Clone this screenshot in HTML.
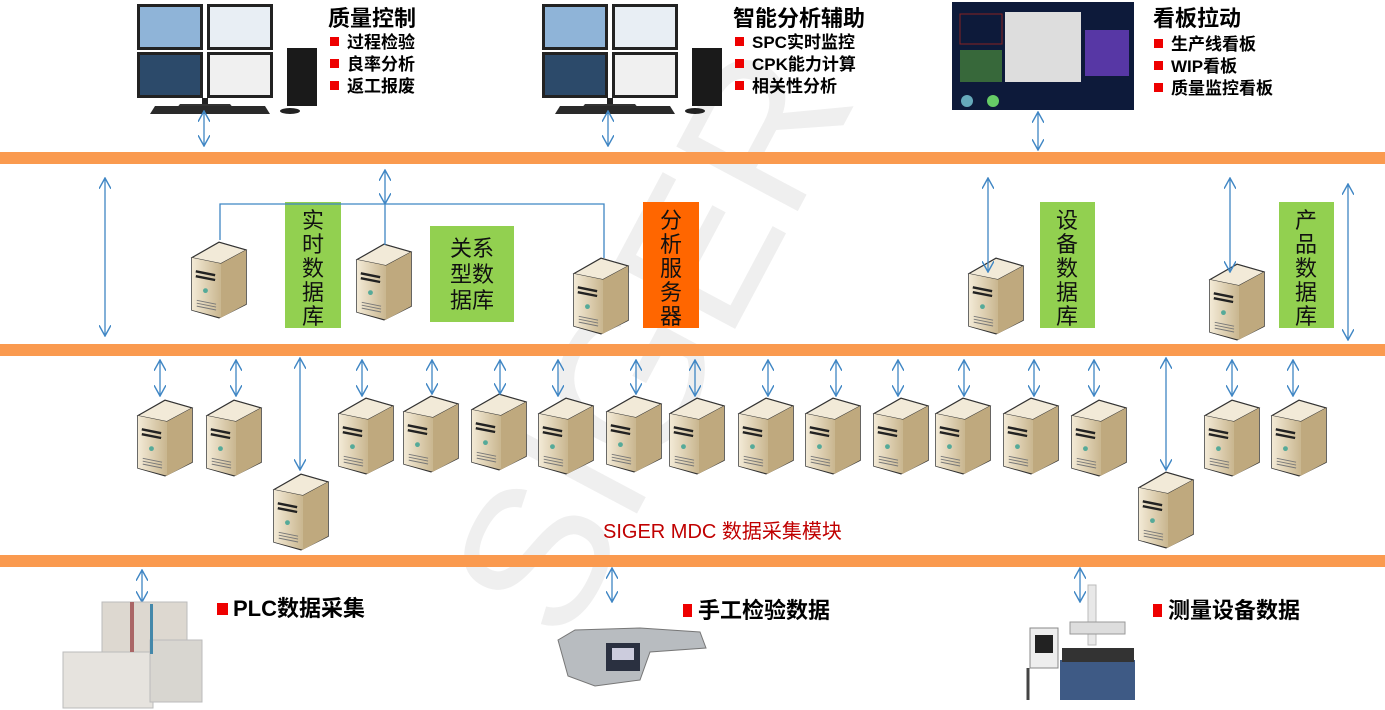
<!DOCTYPE html>
<html><head><meta charset="utf-8"><style>
html,body{margin:0;padding:0;background:#fff;width:1385px;height:710px;overflow:hidden}
svg{display:block;overflow:hidden}
.t{font-family:"Liberation Sans","Noto Sans CJK SC",sans-serif}
</style></head><body>
<svg width="1385" height="710" viewBox="0 0 1385 710" xmlns="http://www.w3.org/2000/svg">
<defs>
<clipPath id="cp"><rect x="0" y="0" width="1385" height="710"/></clipPath>
<linearGradient id="sf" x1="0" x2="1"><stop offset="0" stop-color="#f3ead6"/><stop offset="1" stop-color="#c9b68f"/></linearGradient>
<symbol id="srv" viewBox="0 0 60 82">
<path d="M2 18 L30 2 L58 10 L58 66 L30 80 L2 72 Z" fill="#d8c8a4" stroke="#333" stroke-width="1.5"/>
<path d="M2 18 L30 2 L58 10 L32 24 Z" fill="#f2ead8" stroke="#333" stroke-width="1"/>
<path d="M32 24 L58 10 L58 66 L32 80 Z" fill="#bfa97e"/>
<path d="M2 18 L32 24 L32 80 L2 72 Z" fill="url(#sf)"/>
<path d="M6 32 L26 36 M6 37 L26 41" stroke="#222" stroke-width="2.5"/>
<circle cx="16" cy="52" r="2.5" fill="#5a9"/>
<path d="M7 62 L27 66 M7 65 L27 69 M7 68 L27 72" stroke="#777" stroke-width="1"/>
</symbol>
<symbol id="mon" viewBox="0 0 140 115">
<rect x="2" y="2" width="66" height="46" fill="#222"/><rect x="72" y="2" width="66" height="46" fill="#222"/>
<rect x="2" y="50" width="66" height="46" fill="#222"/><rect x="72" y="50" width="66" height="46" fill="#222"/>
<rect x="5" y="5" width="60" height="40" fill="#8fb4d8"/><rect x="75" y="5" width="60" height="40" fill="#e8eef4"/>
<rect x="5" y="53" width="60" height="40" fill="#2c4a6a"/><rect x="75" y="53" width="60" height="40" fill="#f0f0f0"/>
<rect x="67" y="96" width="6" height="6" fill="#222"/><path d="M45 102 L95 102 L100 108 L40 108Z" fill="#333"/>
<path d="M20 104 L130 104 L135 112 L15 112Z" fill="#2a2a2a"/>
</symbol>
<marker id="ah" viewBox="0 0 10 10" refX="9" refY="5" markerWidth="12" markerHeight="12" orient="auto-start-reverse" markerUnits="userSpaceOnUse"><path d="M0 0 L9 5 L0 10" fill="none" stroke="#3f86c4" stroke-width="1.2"/></marker>
</defs>
<g clip-path="url(#cp)">
<!-- watermark -->
<text x="650" y="410" class="t" font-size="200" fill="#efefef" transform="rotate(-62 650 340)" text-anchor="middle">SIGER</text>

<!-- bands -->
<rect x="0" y="152" width="1385" height="12" fill="#fa9a4f"/>
<rect x="0" y="344" width="1385" height="12" fill="#fa9a4f"/>
<rect x="0" y="555" width="1385" height="12" fill="#fa9a4f"/>

<!-- top images -->
<use href="#mon" x="135" y="2" width="140" height="115"/>
<rect x="287" y="48" width="30" height="58" fill="#1a1a1a"/>
<ellipse cx="290" cy="111" rx="10" ry="3" fill="#222"/>
<use href="#mon" x="540" y="2" width="140" height="115"/>
<rect x="692" y="48" width="30" height="58" fill="#1a1a1a"/>
<ellipse cx="695" cy="111" rx="10" ry="3" fill="#222"/>
<rect x="952" y="2" width="182" height="108" fill="#0d1a3a"/>
<rect x="1005" y="12" width="76" height="70" fill="#ddd"/>
<rect x="960" y="14" width="42" height="30" fill="none" stroke="#822" /><rect x="1085" y="30" width="44" height="46" fill="#6a3fc0" opacity=".8"/>
<rect x="960" y="50" width="42" height="32" fill="#4a8a3a" opacity=".7"/>
<circle cx="967" cy="101" r="6" fill="#6ab"/><circle cx="993" cy="101" r="6" fill="#6c6"/>

<!-- top texts -->
<g class="t" font-weight="bold">
<text x="328" y="26" font-size="22">质量控制</text>
<text x="733" y="26" font-size="22">智能分析辅助</text>
<text x="1153" y="26" font-size="22">看板拉动</text>
<g font-size="17">
<rect x="330" y="37" width="9" height="9" fill="#e00"/><text x="347" y="48">过程检验</text>
<rect x="330" y="59" width="9" height="9" fill="#e00"/><text x="347" y="70">良率分析</text>
<rect x="330" y="81" width="9" height="9" fill="#e00"/><text x="347" y="92">返工报废</text>
<rect x="735" y="37" width="9" height="9" fill="#e00"/><text x="752" y="48">SPC实时监控</text>
<rect x="735" y="59" width="9" height="9" fill="#e00"/><text x="752" y="70">CPK能力计算</text>
<rect x="735" y="81" width="9" height="9" fill="#e00"/><text x="752" y="92">相关性分析</text>
<rect x="1154" y="39" width="9" height="9" fill="#e00"/><text x="1171" y="50">生产线看板</text>
<rect x="1154" y="61" width="9" height="9" fill="#e00"/><text x="1171" y="72">WIP看板</text>
<rect x="1154" y="83" width="9" height="9" fill="#e00"/><text x="1171" y="94">质量监控看板</text>
</g></g>

<!-- middle labels -->
<g class="t" font-size="22" fill="#111" text-anchor="middle">
<rect x="285" y="202" width="56" height="126" fill="#92d050"/>
<text x="313" y="228">实</text><text x="313" y="252">时</text><text x="313" y="276">数</text><text x="313" y="300">据</text><text x="313" y="324">库</text>
<rect x="430" y="226" width="84" height="96" fill="#92d050"/>
<text x="472" y="256">关系</text><text x="472" y="282">型数</text><text x="472" y="308">据库</text>
<rect x="643" y="202" width="56" height="126" fill="#ff6600"/>
<text x="671" y="228">分</text><text x="671" y="252">析</text><text x="671" y="276">服</text><text x="671" y="300">务</text><text x="671" y="324">器</text>
<rect x="1040" y="202" width="55" height="126" fill="#92d050"/>
<text x="1067" y="228">设</text><text x="1067" y="252">备</text><text x="1067" y="276">数</text><text x="1067" y="300">据</text><text x="1067" y="324">库</text>
<rect x="1279" y="202" width="55" height="126" fill="#92d050"/>
<text x="1306" y="228">产</text><text x="1306" y="252">品</text><text x="1306" y="276">数</text><text x="1306" y="300">据</text><text x="1306" y="324">库</text>
</g>

<!-- servers -->
<g>
<use href="#srv" x="190" y="240" width="58" height="80"/>
<use href="#srv" x="355" y="242" width="58" height="80"/>
<use href="#srv" x="572" y="256" width="58" height="80"/>
<use href="#srv" x="967" y="256" width="58" height="80"/>
<use href="#srv" x="1208" y="262" width="58" height="80"/>
<use href="#srv" x="136" y="398" width="58" height="80"/>
<use href="#srv" x="205" y="398" width="58" height="80"/>
<use href="#srv" x="272" y="472" width="58" height="80"/>
<use href="#srv" x="337" y="396" width="58" height="80"/>
<use href="#srv" x="402" y="394" width="58" height="80"/>
<use href="#srv" x="470" y="392" width="58" height="80"/>
<use href="#srv" x="537" y="396" width="58" height="80"/>
<use href="#srv" x="605" y="394" width="58" height="80"/>
<use href="#srv" x="668" y="396" width="58" height="80"/>
<use href="#srv" x="737" y="396" width="58" height="80"/>
<use href="#srv" x="804" y="396" width="58" height="80"/>
<use href="#srv" x="872" y="396" width="58" height="80"/>
<use href="#srv" x="934" y="396" width="58" height="80"/>
<use href="#srv" x="1002" y="396" width="58" height="80"/>
<use href="#srv" x="1070" y="398" width="58" height="80"/>
<use href="#srv" x="1203" y="398" width="58" height="80"/>
<use href="#srv" x="1270" y="398" width="58" height="80"/>
<use href="#srv" x="1137" y="470" width="58" height="80"/>
</g>

<!-- connectors -->
<g stroke="#3f86c4" stroke-width="1.3" fill="none">
<path d="M220 240 V204 H604 V258 M385 204 V245"/>
<g marker-start="url(#ah)" marker-end="url(#ah)">
<path d="M204 111 V146"/><path d="M608 111 V146"/><path d="M1038 112 V150"/>
<path d="M105 178 V336"/><path d="M385 170 V204"/><path d="M988 178 V272"/><path d="M1230 178 V272"/><path d="M1348 184 V340"/>
<path d="M160 360 V396"/><path d="M236 360 V396"/><path d="M362 360 V396"/><path d="M432 360 V394"/><path d="M500 360 V394"/><path d="M558 360 V396"/><path d="M636 360 V394"/><path d="M695 360 V396"/><path d="M768 360 V396"/><path d="M836 360 V396"/><path d="M898 360 V396"/><path d="M964 360 V396"/><path d="M1034 360 V396"/><path d="M1094 360 V396"/><path d="M1232 360 V396"/><path d="M1293 360 V396"/>
<path d="M300 358 V470"/><path d="M1166 358 V470"/>
<path d="M142 570 V602"/><path d="M612 568 V602"/><path d="M1080 568 V602"/>
</g></g>

<text x="603" y="538" class="t" font-size="20" fill="#c00000">SIGER MDC 数据采集模块</text>

<!-- bottom images -->
<g>
<rect x="102" y="602" width="85" height="60" fill="#ddd8d0" stroke="#bbb"/>
<rect x="63" y="652" width="90" height="56" fill="#e6e3de" stroke="#bbb"/>
<rect x="150" y="640" width="52" height="62" fill="#d8d6d0" stroke="#bbb"/>
<rect x="130" y="602" width="4" height="50" fill="#a66"/><rect x="150" y="604" width="3" height="50" fill="#48a"/>
<path d="M558 640 L575 630 L640 628 L700 632 L706 648 L650 652 L640 680 L595 686 L568 676 Z" fill="#b8bcc0" stroke="#777"/>
<rect x="606" y="643" width="34" height="28" fill="#2a3040"/><rect x="612" y="648" width="22" height="12" fill="#ccd"/>
<rect x="1088" y="585" width="8" height="60" fill="#e8e8e8" stroke="#bbb"/>
<rect x="1070" y="622" width="55" height="12" fill="#ddd" stroke="#999"/>
<rect x="1060" y="660" width="75" height="40" fill="#3e5a85"/><rect x="1062" y="648" width="72" height="14" fill="#333"/>
<rect x="1030" y="628" width="28" height="40" fill="#eee" stroke="#888"/><rect x="1035" y="635" width="18" height="18" fill="#222"/>
<path d="M1028 668 V700" stroke="#444" stroke-width="3"/>
</g>
<g class="t" font-size="22" font-weight="bold">
<rect x="217" y="603" width="11" height="12" fill="#e00"/><text x="233" y="616">PLC数据采集</text>
<rect x="683" y="604" width="9" height="13" fill="#e00"/><text x="698" y="618">手工检验数据</text>
<rect x="1153" y="604" width="9" height="13" fill="#e00"/><text x="1168" y="618">测量设备数据</text>
</g>
</g>
</svg>
</body></html>
